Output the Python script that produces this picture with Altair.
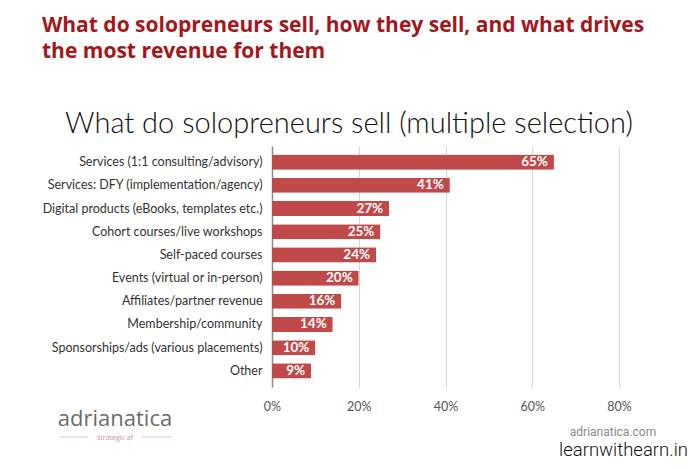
import altair as alt
import pandas as pd

categories = [
    "Services (1:1 consulting/advisory)",
    "Services: DFY (implementation/agency)",
    "Digital products (eBooks, templates etc.)",
    "Cohort courses/live workshops",
    "Self-paced courses",
    "Events (virtual or in-person)",
    "Affiliates/partner revenue ",
    "Membership/community",
    "Sponsorships/ads (various placements)",
    "Other",
]
values = [65, 41, 27, 25, 24, 20, 16, 14, 10, 9]
x_ticks = [0, 20, 40, 60, 80]

df = pd.DataFrame({"category": categories, "value": values})
df["label"] = df["value"].astype(str) + "%"

BAR = "#c04a4a"

y_enc = alt.Y(
    "category:N",
    sort=categories,
    title=None,
    scale=alt.Scale(paddingInner=0.35, paddingOuter=0.37),
    axis=alt.Axis(
        ticks=False,
        domain=True,
        domainColor="#8c8c8c",
        domainWidth=1.5,
        labelFont="Lato",
        labelFontSize=12.5,
        labelColor="#333333",
        labelPadding=10,
        labelLimit=400,
        grid=False,
    ),
)
x_enc = alt.X(
    "value:Q",
    title=None,
    scale=alt.Scale(domain=[0, 80], nice=False),
    axis=alt.Axis(
        values=x_ticks,
        labelExpr="datum.value + '%'",
        labelFlush=False,
        ticks=False,
        domain=False,
        grid=True,
        gridColor="#d6d6d6",
        gridWidth=1,
        labelFont="Lato",
        labelFontSize=12.5,
        labelColor="#555555",
        labelPadding=13,
    ),
)

base = alt.Chart(df)
bars = base.mark_bar(color=BAR, cornerRadius=1).encode(x=x_enc, y=y_enc)
labels = base.mark_text(
    align="right", dx=-6, color="white", font="Lato", fontWeight="bold", fontSize=13.5
).encode(x="value:Q", y=alt.Y("category:N", sort=categories), text="label:N")

def txt(s, x, y, size, color, font="Open Sans", weight="normal", align="left"):
    return alt.Chart(pd.DataFrame({"t": [s]})).mark_text(
        align=align, baseline="alphabetic", fontSize=size, color=color,
        font=font, fontWeight=weight,
    ).encode(text="t:N", x=alt.value(x), y=alt.value(y))

def rule(x1, x2, y, color):
    return alt.Chart(pd.DataFrame({"a": [0]})).mark_rule(color=color, strokeWidth=1).encode(
        x=alt.value(x1), x2=alt.value(x2), y=alt.value(y)
    )

title1 = txt("What do solopreneurs sell, how they sell, and what drives", -230, -114, 21, "#a3171c", weight="bold")
title2 = txt("the most revenue for them", -230, -88, 21, "#a3171c", weight="bold")
main_title = txt("What do solopreneurs sell (multiple selection)", 77, -13, 29, "#111111", font="Lato", weight=300, align="center")
logo = txt("adrianatica", -157, 280, 22, "#6b6b6b", font="Open Sans", align="center")
tag = txt("strategic af", -157, 294, 7, "#d48ea4", font="Open Sans", align="center")
l1 = rule(-212, -184, 291, "#e3c2cb")
l2 = rule(-130, -100, 291, "#e3c2cb")
site = txt("adrianatica.com", 341, 290, 12, "#8a8a8a", font="Roboto", align="center")
wm = txt("learnwithearn.in", 416, 310, 18.5, "#111111", font="Roboto", weight=300, align="right")

chart = alt.layer(bars, labels, title1, title2, main_title, logo, tag, l1, l2, site, wm).properties(
    width=347,
    height=241,
    padding={"left": 264, "top": 138, "right": 73, "bottom": 74},
    autosize=alt.AutoSizeParams(type="none"),
    background="white",
).configure_view(stroke=None)

chart.save("out.html", embed_options={"renderer": "svg", "actions": False})
